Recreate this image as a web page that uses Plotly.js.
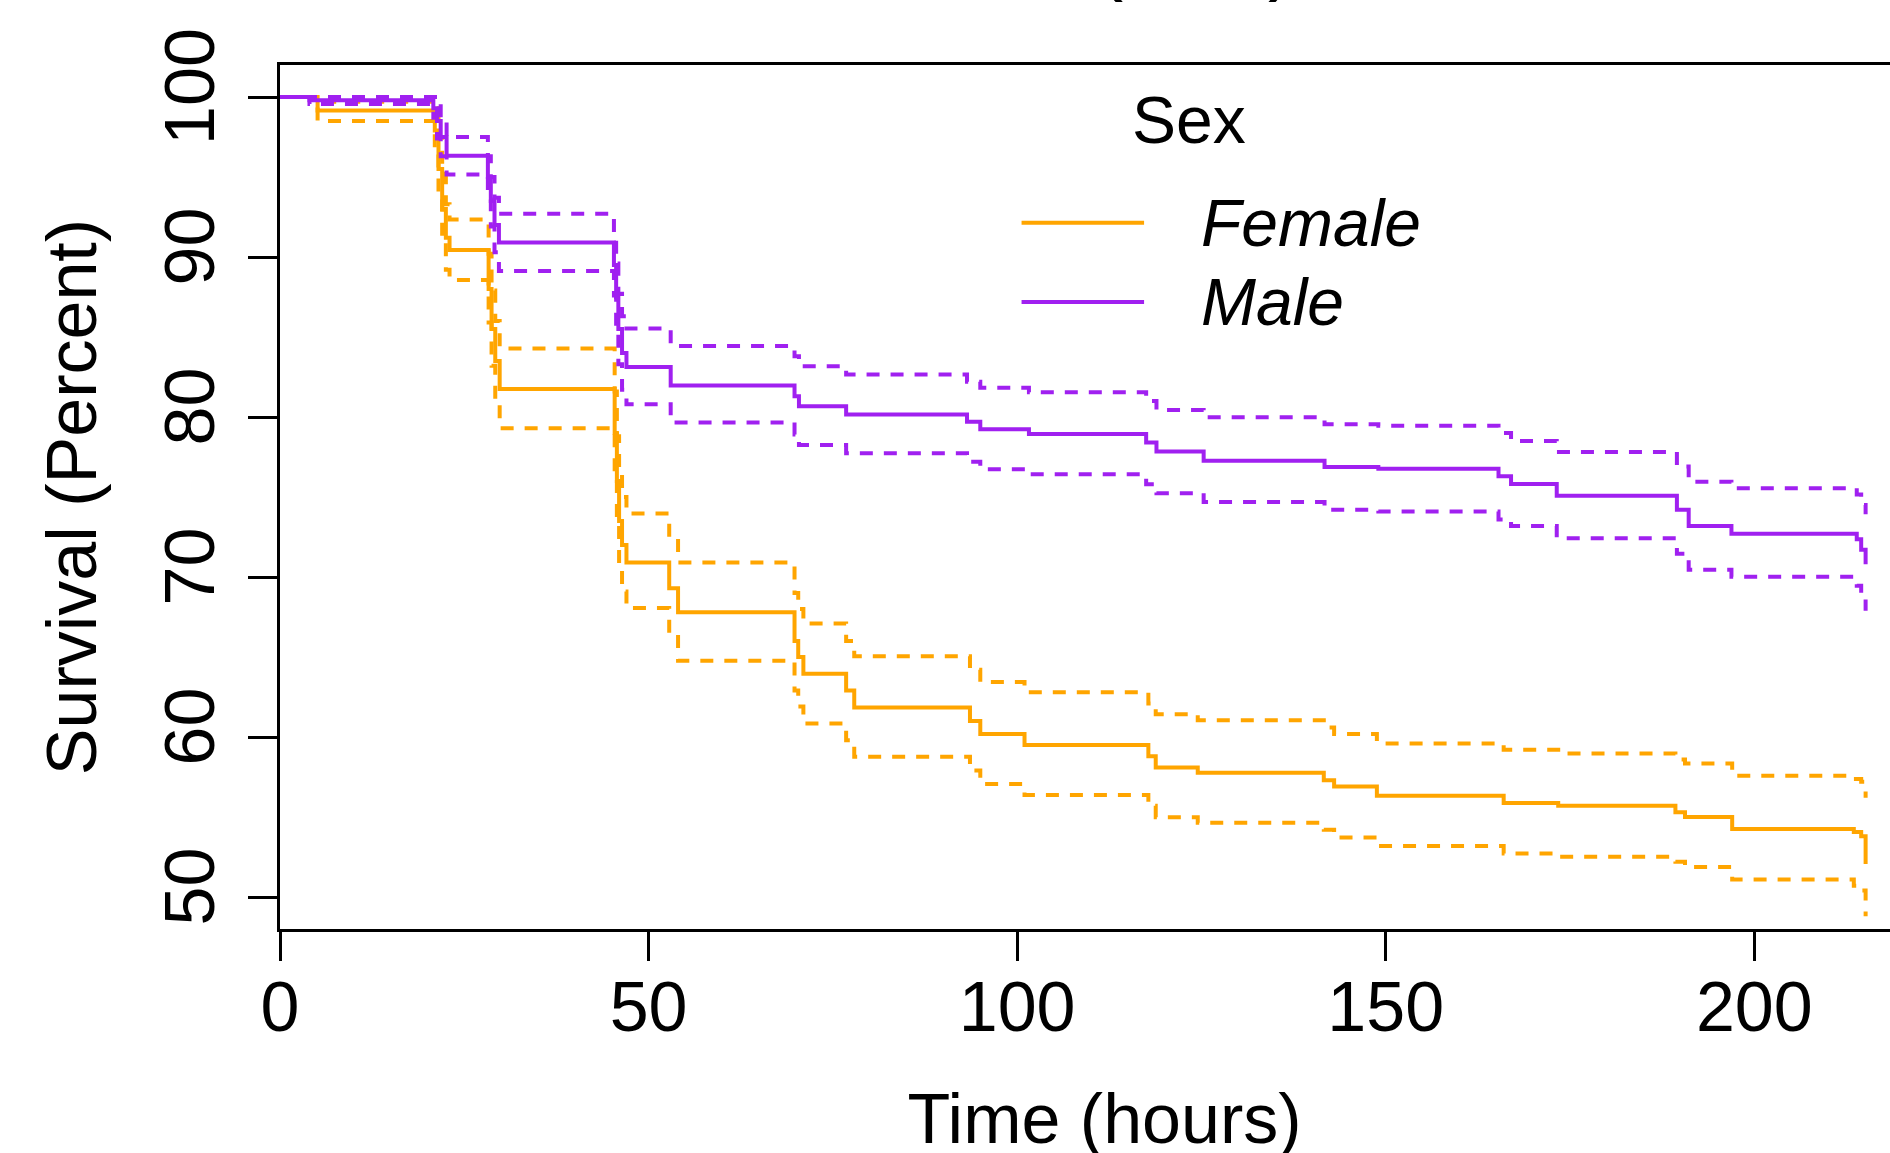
<!DOCTYPE html>
<html><head><meta charset="utf-8">
<script src="https://cdn.plot.ly/plotly-3.0.1.min.js"></script>
<style>
html,body{margin:0;padding:0;overflow:hidden;background:#fff;width:1890px;height:1153px;}
#wrap{position:absolute;left:0;top:-120px;width:2000px;height:1333px;}
</style></head><body>
<div id="wrap"></div>
<script>
// ---- data ----
const femaleTime  = [0, 5.1, 21.0, 21.5, 22.0, 22.5, 23.0, 28.3, 28.7, 29.2, 29.8, 45.4, 45.7, 46.0, 46.4, 47.0, 52.8, 54.0, 69.8, 70.3, 71.0, 76.8, 77.9, 93.6, 95.0, 101.0, 117.8, 118.8, 124.5, 141.6, 143.0, 148.8, 166.0, 173.4, 189.3, 190.6, 197.0, 213.5, 214.5, 215.1];
const femaleSurv  = [100, 99.15, 97.9, 95.5, 93.0, 91.2, 90.44, 88.0, 85.5, 83.5, 81.75, 79.0, 76.0, 73.5, 72.0, 70.9, 69.3, 67.8, 66.0, 65.0, 63.96, 62.9, 61.85, 61.0, 60.19, 59.5, 58.8, 58.1, 57.76, 57.3, 56.9, 56.33, 55.87, 55.7, 55.3, 55.0, 54.25, 54.06, 53.8, 52.06];
const femaleUpper = [100, 99.7, 99.3, 97.5, 95.2, 93.3, 92.35, 90.2, 87.9, 86.0, 84.28, 81.6, 78.8, 76.5, 75.0, 73.97, 72.4, 70.9, 69.0, 68.0, 67.1, 66.0, 65.05, 64.2, 63.43, 62.8, 62.1, 61.42, 61.05, 60.6, 60.19, 59.6, 59.2, 58.97, 58.6, 58.34, 57.58, 57.37, 57.2, 56.2];
const femaleLower = [100, 98.5, 96.5, 93.6, 91.0, 89.2, 88.56, 85.9, 83.2, 81.0, 79.29, 76.5, 73.4, 70.7, 69.1, 68.06, 66.4, 64.77, 62.9, 61.9, 60.84, 59.8, 58.76, 57.9, 57.07, 56.37, 55.7, 54.99, 54.64, 54.2, 53.72, 53.19, 52.72, 52.51, 52.2, 51.88, 51.1, 50.7, 50.4, 48.8];

const maleTime  = [0, 4.0, 20.8, 21.3, 21.8, 22.6, 28.2, 28.6, 29.1, 29.7, 45.3, 45.6, 45.9, 46.4, 47.0, 53.0, 69.8, 70.4, 76.8, 93.2, 95.0, 101.6, 117.5, 118.9, 125.3, 141.7, 149.0, 165.3, 167.0, 173.2, 189.5, 191.1, 196.9, 213.9, 214.5, 215.1];
const maleSurv  = [100, 99.8, 99.3, 98.5, 97.5, 96.33, 95.0, 93.5, 92.0, 90.9, 89.5, 87.5, 85.5, 84.0, 83.13, 81.97, 81.3, 80.67, 80.16, 79.7, 79.24, 78.94, 78.4, 77.85, 77.27, 76.88, 76.77, 76.3, 75.82, 75.08, 74.2, 73.19, 72.7, 72.36, 71.7, 70.8];
const maleUpper = [100, 100, 100, 99.6, 98.7, 97.5, 96.3, 95.0, 93.7, 92.7, 91.4, 89.6, 87.7, 86.3, 85.53, 84.44, 83.8, 83.17, 82.66, 82.2, 81.83, 81.55, 81.0, 80.44, 79.98, 79.54, 79.45, 79.0, 78.5, 77.81, 76.9, 75.96, 75.55, 75.15, 74.5, 73.92];
const maleLower = [100, 99.56, 98.7, 97.4, 96.3, 95.15, 93.6, 91.9, 90.3, 89.13, 87.6, 85.4, 83.3, 81.7, 80.79, 79.66, 78.9, 78.25, 77.74, 77.2, 76.74, 76.42, 75.8, 75.24, 74.69, 74.2, 74.1, 73.6, 73.19, 72.42, 71.46, 70.45, 70.01, 69.46, 68.8, 67.89];

const groupNames = ['Female', 'Male'];
const legendTitle = 'Sex';
const xTicks = [0, 50, 100, 150, 200];
const yTicks = [50, 60, 70, 80, 90, 100];
const xLabel = 'Time (hours)';
const yLabel = 'Survival (Percent)';
const chartTitle = 'Survival (Sex)';

// ---- style ----
const FONT = 'Liberation Sans, Arial, Helvetica, sans-serif';
const colors = {Female: '#FFA500', Male: '#A020F0'};
const LW = 4;

const groups = [
  {name: groupNames[0], t: femaleTime, s: femaleSurv, u: femaleUpper, l: femaleLower},
  {name: groupNames[1], t: maleTime, s: maleSurv, u: maleUpper, l: maleLower}
];

const traces = [];
groups.forEach(g => {
  const c = colors[g.name];
  [['l', 'dash'], ['u', 'dash'], ['s', 'solid']].forEach(([k, d]) => {
    traces.push({
      type: 'scatter', mode: 'lines', x: g.t, y: g[k],
      name: g.name + (k === 's' ? '' : (k === 'u' ? ' upper CI' : ' lower CI')),
      line: {color: c, width: LW, shape: 'hv', dash: d === 'dash' ? '13px,11px' : 'solid'},
      showlegend: false, hoverinfo: 'skip'
    });
  });
});

// legend drawn in paper coordinates
const legX0 = 0.4497, legX1 = 0.5240;
const legY = [0.8175, 0.7257];
const shapes = groups.map((g, i) => ({
  type: 'line', xref: 'paper', yref: 'paper', x0: legX0, x1: legX1, y0: legY[i], y1: legY[i],
  line: {color: colors[g.name], width: LW}
}));
const annotations = groups.map((g, i) => ({
  xref: 'paper', yref: 'paper', x: 0.5575, y: legY[i], xanchor: 'left', yanchor: 'middle',
  text: '<i>' + g.name + '</i>', showarrow: false, font: {family: FONT, size: 66, color: '#000'}
}));
annotations.push({
  xref: 'paper', yref: 'paper', x: 0.5152, y: 0.9365, xanchor: 'left', yanchor: 'middle',
  text: legendTitle, showarrow: false, font: {family: FONT, size: 66, color: '#000'}
});

const layout = {
  width: 2000, height: 1333,
  margin: {l: 280, r: 71, t: 185, b: 284, pad: 0},
  paper_bgcolor: '#fff', plot_bgcolor: '#fff',
  font: {family: FONT, color: '#000', size: 70},
  showlegend: false,
  title: {text: chartTitle, font: {family: FONT, size: 84, color: '#000'},
          xref: 'container', x: 1296 / 2000, xanchor: 'right',
          yref: 'container', y: 0.921, yanchor: 'bottom'},
  xaxis: {
    range: [0, 223.7], tickmode: 'array', tickvals: xTicks, ticktext: xTicks.map(String),
    ticks: 'outside', ticklen: 29, tickwidth: 3, tickcolor: '#000',
    showline: true, mirror: true, linewidth: 3, linecolor: '#000',
    showgrid: false, zeroline: false, automargin: false,
    tickfont: {family: FONT, size: 70, color: '#000'},
    ticklabelstandoff: -14,
    title: {text: xLabel, font: {family: FONT, size: 70, color: '#000'}, standoff: 49}
  },
  yaxis: {
    range: [48, 102], tickmode: 'array', tickvals: yTicks, ticktext: yTicks.map(String),
    ticks: 'outside', ticklen: 29, tickwidth: 3, tickcolor: '#000', tickangle: -90,
    showline: true, mirror: true, linewidth: 3, linecolor: '#000',
    showgrid: false, zeroline: false, automargin: false,
    tickfont: {family: FONT, size: 70, color: '#000'},
    ticklabelstandoff: 6,
    title: {text: yLabel, font: {family: FONT, size: 70, color: '#000'}, standoff: 32}
  },
  shapes: shapes,
  annotations: annotations
};

Plotly.newPlot('wrap', traces, layout, {staticPlot: true, displayModeBar: false});
</script>
</body></html>
